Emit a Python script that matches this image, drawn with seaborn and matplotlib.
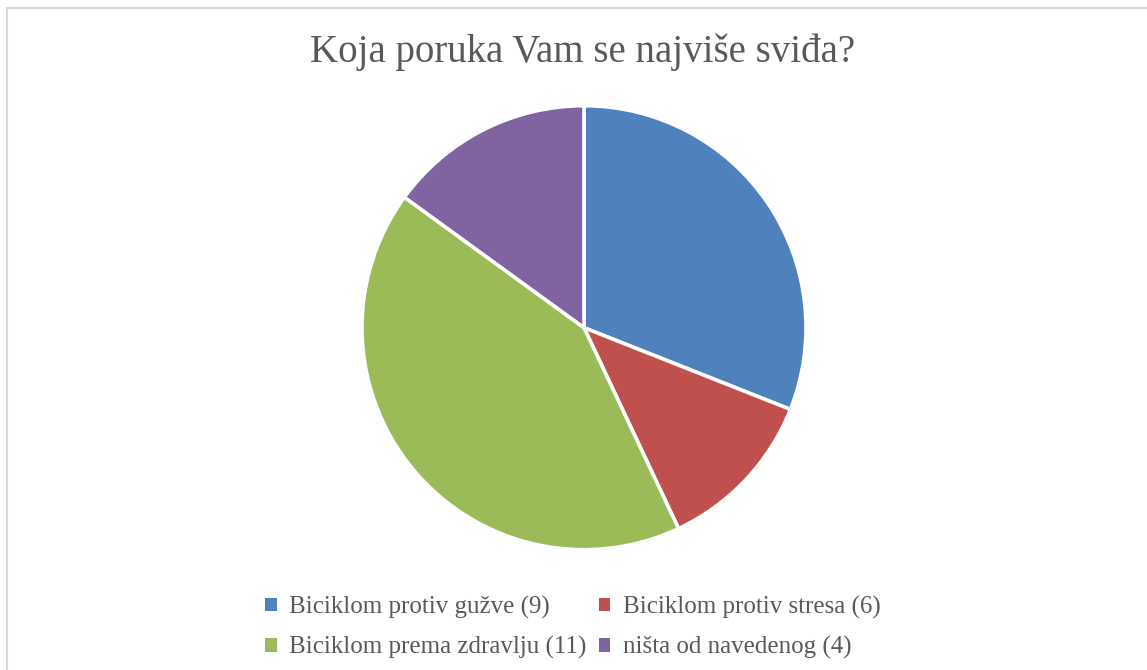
import matplotlib
matplotlib.use("Agg")
import matplotlib.pyplot as plt
from matplotlib.lines import Line2D
from matplotlib.patches import Patch
import seaborn as sns

# data (slice shares) and the legend labels
labels = ["Biciklom protiv gužve (9)", "Biciklom protiv stresa (6)",
          "Biciklom prema zdravlju (11)", "ništa od navedenog (4)"]
shares = [31, 12, 42, 15]
colors = ["#4F81BD", "#C0504D", "#9BBB59", "#8064A2"]

sns.set_theme(style="white")
plt.rcParams['font.family'] = ['Liberation Serif', 'DejaVu Serif']

fig = plt.figure(figsize=(11.47, 6.70), dpi=100)
ax = fig.add_axes([584/1147 - 222/1147, 1 - (327.7 + 222)/670, 444/1147, 444/670])

ax.pie(shares, colors=colors, startangle=90, counterclock=False,
       wedgeprops={'edgecolor': 'white', 'linewidth': 2.6})
ax.set_aspect('equal')
ax.set_xlim(-1, 1)
ax.set_ylim(-1, 1)
ax.axis('off')

fig.text(583/1147, 1 - 52/670, "Koja poruka Vam se najviše sviđa?",
         ha='center', va='center', fontsize=28, color='#595959')

# legend is filled row by row in the reference
order = [0, 2, 1, 3]
handles = [Patch(facecolor=colors[i], edgecolor='none') for i in order]
leg = fig.legend(handles, [labels[i] for i in order], ncol=2, loc='center',
                 bbox_to_anchor=(573/1147, 1 - 627.5/670), frameon=False,
                 fontsize=18, handlelength=0.45, handleheight=0.45,
                 handletextpad=0.5, columnspacing=0.5, labelspacing=0.7)
for t in leg.get_texts():
    t.set_color('#595959')

# light frame of the chart area
fig.add_artist(Line2D([7/1147, 7/1147], [0, 1 - 8/670], color='#d9d9d9', lw=1.5,
                      transform=fig.transFigure))
fig.add_artist(Line2D([7/1147, 1], [1 - 8/670, 1 - 8/670], color='#d9d9d9', lw=1.5,
                      transform=fig.transFigure))

fig.savefig("out.png", dpi=100, facecolor='white')
